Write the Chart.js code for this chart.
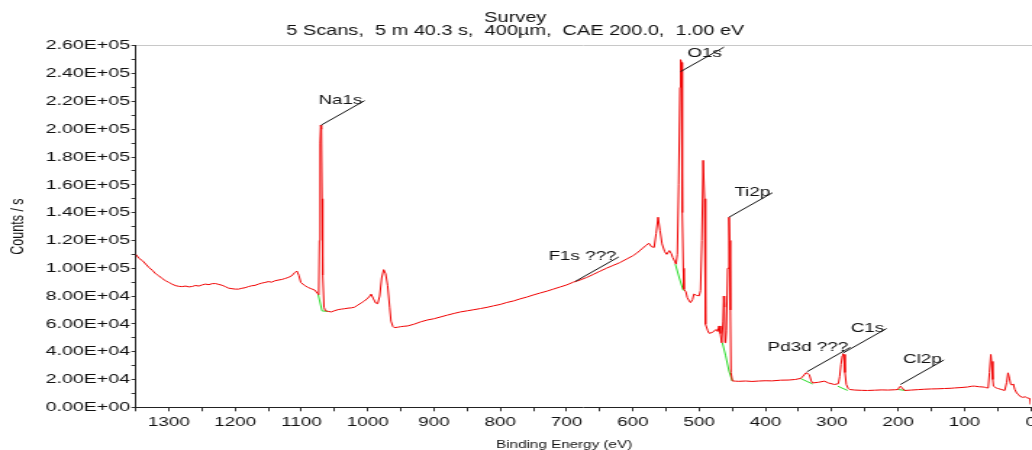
<!DOCTYPE html>
<html>
<head>
<meta charset="utf-8">
<title>Survey</title>
<script src="https://cdn.jsdelivr.net/npm/chart.js@4.4.1/dist/chart.umd.min.js"></script>
<style>
  html, body { margin: 0; padding: 0; background: #fff; }
</style>
</head>
<body>
<!-- the exported picture is stretched sideways, so the canvas is drawn narrow and stretched too -->
<canvas id="survey" width="712" height="450" style="width:1032px;height:450px"></canvas>
<script>
// binding energy (eV) and counts/s of the survey spectrum
const energies = [
  1350, 1345, 1340, 1335, 1330, 1325, 1320, 1315, 1310, 1305, 1300, 1295, 1290, 1285, 1280, 1275,
  1270, 1265, 1260, 1255, 1250, 1245, 1240, 1235, 1230, 1225, 1220, 1215, 1210, 1205, 1200, 1195,
  1190, 1185, 1180, 1175, 1170, 1165, 1160, 1155, 1150, 1145, 1140, 1135, 1130, 1125, 1120, 1115,
  1110, 1107, 1104, 1101, 1095, 1090, 1085, 1080, 1076, 1074, 1073, 1072, 1071, 1070, 1069, 1068,
  1066, 1064, 1060, 1055, 1050, 1045, 1040, 1035, 1030, 1025, 1020, 1015, 1010, 1005, 1000, 997,
  995, 992, 988, 985, 982, 979, 976, 973, 970, 967, 965, 962, 960, 955, 950, 945,
  940, 930, 920, 910, 900, 890, 880, 870, 860, 850, 840, 830, 820, 810, 800, 790,
  780, 770, 760, 750, 740, 730, 720, 710, 700, 690, 680, 670, 660, 650, 640, 630,
  620, 610, 600, 595, 590, 585, 580, 576, 572, 568, 565, 562, 559, 556, 552, 549,
  545, 542, 540, 537, 535, 533, 531, 529, 528, 527, 526, 525, 524, 523, 520, 518,
  515, 513, 510, 508, 504, 500, 498, 496, 494, 492, 491, 490, 487, 485, 480, 476,
  474, 472, 470, 468, 466, 464, 463, 462, 461, 460, 459, 457, 455, 454, 453, 452,
  450, 445, 440, 430, 420, 410, 400, 390, 377, 365, 355, 350, 347, 343, 339, 336,
  334, 331, 329, 320, 311, 305, 296, 290, 288, 286, 284, 283, 282, 280, 278, 275,
  273, 265, 255, 246, 235, 225, 215, 205, 200, 198, 196, 194, 190, 180, 170, 160,
  150, 140, 130, 120, 115, 105, 95, 88, 84, 78, 72, 69, 66, 64, 62, 60,
  59, 57, 56, 52, 49, 44, 39, 36, 34, 32, 30, 28, 26, 24, 21, 18,
  16, 12, 8, 5, 1, 0
];
const counts = [
  110000, 107000, 105500, 103000, 100500, 98500, 96000, 94500, 92500, 91000, 89800, 88500, 87500, 87000, 86800, 87200,
  86600, 86900, 87600, 87200, 88000, 88600, 88200, 88900, 89000, 88400, 87800, 86800, 85700, 85300, 85000, 85000,
  85600, 86000, 86800, 87400, 87700, 88600, 89300, 89800, 90400, 90000, 91000, 91500, 91900, 92600, 93400, 94500,
  97000, 98000, 95000, 89800, 87500, 86200, 85200, 84300, 82000, 81000, 120000, 190000, 203000, 200000, 150000, 95000,
  72000, 69500, 69000, 68600, 69500, 70200, 70600, 70900, 71300, 71500, 72000, 73500, 75000, 76500, 78500, 80000,
  81400, 78500, 75000, 74500, 80000, 93000, 99000, 96000, 87400, 72000, 62000, 58000, 57300, 57600, 58000, 58300,
  58500, 59800, 61500, 62800, 63700, 65000, 66300, 67500, 68600, 69400, 70200, 71000, 71900, 73000, 74000, 75400,
  76500, 78000, 79300, 80800, 82200, 83500, 85000, 86500, 88000, 90000, 91500, 93300, 95500, 97800, 100000, 102000,
  104000, 106500, 109000, 110500, 112500, 114500, 116500, 118000, 115500, 115000, 125000, 136700, 127000, 117500, 112000, 110000,
  112700, 110500, 107800, 105000, 103000, 110000, 160000, 230000, 250000, 248000, 200000, 140000, 100000, 85000, 83000, 79000,
  76500, 75300, 77500, 81400, 80500, 80200, 84000, 120000, 177600, 150000, 95000, 59700, 55000, 53200, 53800, 55500,
  56000, 54500, 58500, 53000, 46400, 62000, 80000, 72000, 46500, 47600, 55000, 100000, 136700, 120000, 70000, 25000,
  19000, 18800, 18700, 18900, 18600, 18900, 19100, 19000, 19500, 19600, 20000, 20500, 20700, 22500, 24800, 24200,
  23600, 19000, 17500, 18000, 18800, 17500, 16400, 17000, 22000, 30800, 37000, 38500, 38000, 25000, 16400, 13500,
  12800, 12400, 12200, 12100, 12300, 12500, 12400, 12600, 12800, 14500, 15200, 14000, 12100, 12400, 12700, 13000,
  13200, 13300, 13500, 13700, 13900, 14200, 14600, 15200, 15200, 14800, 14600, 14400, 14000, 13900, 25000, 38000,
  33000, 20000, 15200, 14000, 13500, 12800, 12100, 18000, 24800, 21000, 16400, 16000, 16800, 13000, 10300, 9000,
  7900, 7200, 7500, 6800, 6300, 2000
];

// peak backgrounds (green), null breaks the line between peaks
const bgEnergies = [1075, 1069, 1060, 1059, 536, 530, 524, 523, 465, 460, 455, 450, 449, 347, 329, 328, 291, 276, 275, 200, 188];
const bgCounts = [81400, 69300, 69000, null, 103000, 93000, 84000, null, 46400, 37000, 26000, 18800, null, 20700, 16800, null, 15200, 12100, null, 12800, 12100];

// peak labels and where their leader lines start
const peakNames = ['Na1s', 'O1s', 'F1s ???', 'Ti2p', 'Pd3d ???', 'C1s', 'Cl2p'];
const peakEnergies = [1070.4, 528.1, 687, 455, 337.5, 283, 196.3];
const peakCounts = [202900, 241400, 90500, 136700, 25500, 39000, 16400];

// x axis: energy decreasing to the right
const xMin = 0;
const xMax = 1350;
const xStep = 50;
const xLabelStep = 100;
// y axis
const yMin = 0;
const yMax = 260000;
const yStep = 10000;
const yLabelStep = 20000;

function sci(v) {
  if (v === 0) return '0.00E+00';
  const e = Math.floor(Math.log10(v));
  const m = v / Math.pow(10, e);
  return m.toFixed(2) + 'E+' + String(e).padStart(2, '0');
}

const peakLabels = {
  id: 'peakLabels',
  afterDatasetsDraw(chart) {
    const { ctx, chartArea, scales: { x, y } } = chart;
    ctx.save();
    ctx.strokeStyle = '#111';
    ctx.fillStyle = '#111';
    ctx.lineWidth = 1;
    ctx.font = '13px "Liberation Sans", Arial, sans-serif';
    ctx.textAlign = 'right';
    ctx.textBaseline = 'alphabetic';
    peakNames.forEach((name, i) => {
      const px = x.getPixelForValue(peakEnergies[i]);
      const py = y.getPixelForValue(peakCounts[i]);
      const ex = px + 30;
      const ey = Math.max(py - 24.5, chartArea.top);
      ctx.beginPath();
      ctx.moveTo(px, py);
      ctx.lineTo(ex, ey);
      ctx.stroke();
      ctx.fillText(name, ex - 1.5, Math.max(ey + 3.5, chartArea.top + 11));
    });
    ctx.restore();
  }
};

Chart.defaults.font.family = '"Liberation Sans", Arial, Helvetica, sans-serif';
Chart.defaults.color = '#111';

new Chart(document.getElementById('survey'), {
  type: 'line',
  data: {
    datasets: [
      {
        label: 'Survey',
        data: energies.map((e, i) => ({ x: e, y: counts[i] })),
        borderColor: 'rgb(240, 0, 0)',
        borderWidth: 1,
        pointRadius: 0,
        tension: 0
      },
      {
        label: 'Background',
        data: bgEnergies.map((e, i) => ({ x: e, y: bgCounts[i] })),
        borderColor: 'rgb(40, 220, 40)',
        borderWidth: 1,
        pointRadius: 0,
        tension: 0,
        spanGaps: false
      }
    ]
  },
  options: {
    responsive: false,
    devicePixelRatio: 1,
    animation: false,
    layout: { padding: { left: 0, right: 1, top: 0, bottom: -1 } },
    plugins: {
      legend: { display: false },
      tooltip: { enabled: false },
      title: {
        display: true,
        text: ['Survey', '5 Scans,  5 m 40.3 s,  400µm,  CAE 200.0,  1.00 eV'],
        color: '#111',
        font: { size: 13.75, weight: 'normal', lineHeight: 0.89 },
        padding: { top: 12.5, bottom: 8.8 }
      }
    },
    scales: {
      x: {
        type: 'linear',
        min: xMin,
        max: xMax,
        reverse: true,
        grid: { drawOnChartArea: false, tickLength: 4, tickColor: '#333' },
        border: { color: '#222' },
        ticks: {
          stepSize: xStep,
          includeBounds: false,
          autoSkip: false,
          maxRotation: 0,
          padding: 3.5,
          font: { size: 13 },
          callback: v => (v % xLabelStep === 0 ? String(v) : '')
        },
        // let the last label run off the edge like the original
        afterFit: s => { s.paddingRight = 0; },
        title: {
          display: true,
          // trailing spaces move the title a little left of the plot centre, as in the original
          text: 'Binding Energy (eV)         ',
          font: { size: 10.5 },
          padding: { top: 4.5, bottom: 0 }
        }
      },
      x2: {
        type: 'linear',
        position: 'top',
        min: xMin,
        max: xMax,
        reverse: true,
        grid: { display: false, drawTicks: false },
        ticks: { display: false },
        border: { color: '#c8c8c8' },
        afterFit: s => { s.paddingRight = 0; s.paddingLeft = 0; }
      },
      y: {
        type: 'linear',
        min: yMin,
        max: yMax,
        grid: { drawOnChartArea: false, tickLength: 3, tickColor: '#333' },
        border: { color: '#222' },
        ticks: {
          stepSize: yStep,
          autoSkip: false,
          padding: 1,
          font: { size: 13.5 },
          callback: v => (v % yLabelStep === 0 ? sci(v) : '')
        },
        title: {
          display: true,
          text: 'Counts / s',
          font: { size: 12.5 },
          padding: { top: 5, bottom: 10.5 }
        }
      }
    }
  },
  plugins: [peakLabels]
});
</script>
</body>
</html>
